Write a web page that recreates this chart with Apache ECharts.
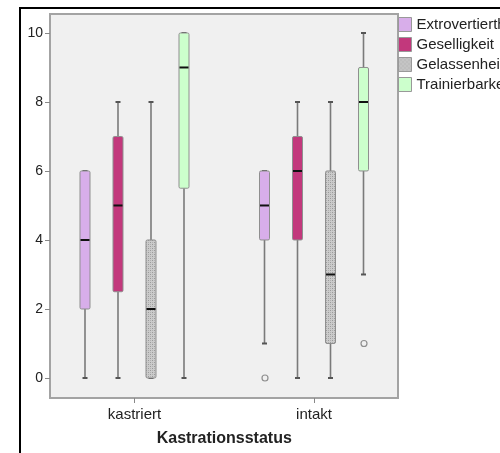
<!DOCTYPE html>
<html>
<head>
<meta charset="utf-8">
<script src="https://cdn.jsdelivr.net/npm/echarts@6/dist/echarts.min.js"></script>
<style>
html,body{margin:0;padding:0;background:#fff;}
#chart{width:500px;height:453px;}
</style>
</head>
<body>
<div id="chart"></div>
<script>
// ---- data ----
const categories = ['kastriert', 'intakt'];
const seriesNames = ['Extrovertiertheit', 'Geselligkeit', 'Gelassenheit', 'Trainierbarkeit'];
// each row: [min, Q1, median, Q3, max] for kastriert, intakt
const extrovertiertheit = [[0, 2, 4, 6, 6], [1, 4, 5, 6, 6]];
const geselligkeit      = [[0, 2.5, 5, 7, 8], [0, 4, 6, 7, 8]];
const gelassenheit      = [[0, 0, 2, 4, 8], [0, 1, 3, 6, 8]];
const trainierbarkeit   = [[0, 5.5, 9, 10, 10], [3, 6, 8, 9, 10]];
// outliers: [categoryIndex, value]
const outliersExtro = [[1, 0]];
const outliersTrain = [[1, 1]];
const yTickValues = [0, 2, 4, 6, 8, 10];

// ---- styles ----
const FONT = "'Liberation Sans', Arial, sans-serif";
const offsets = [-49.5, -16.5, 16.5, 49.5];
const boxW = 10;

const pc = document.createElement('canvas');
pc.width = 4; pc.height = 4;
const pctx = pc.getContext('2d');
pctx.fillStyle = '#cbcbcb'; pctx.fillRect(0, 0, 4, 4);
pctx.fillStyle = '#9a9a9a';
pctx.fillRect(0, 0, 1, 1); pctx.fillRect(2, 2, 1, 1);
pctx.fillStyle = '#b0b0b0';
pctx.fillRect(2, 0, 1, 1); pctx.fillRect(0, 2, 1, 1);
const hatch = { image: pc, repeat: 'repeat' };

const colors = ['#d8aeea', '#c2387c', hatch, '#ccffcc'];
const allData = [extrovertiertheit, geselligkeit, gelassenheit, trainierbarkeit];

function makeRender(offset, fill) {
  return function (params, api) {
    const cat = api.value(0);
    const mn = api.value(1), q1 = api.value(2), md = api.value(3), q3 = api.value(4), mx = api.value(5);
    const cx = api.coord([cat, md])[0] + offset;
    const y = v => api.coord([cat, v])[1];
    const children = [];
    const wl = { stroke: '#7a7a7a', lineWidth: 1.6 };
    if (mx > q3) children.push({ type: 'line', shape: { x1: cx, y1: y(mx), x2: cx, y2: y(q3) }, style: wl });
    if (mn < q1) children.push({ type: 'line', shape: { x1: cx, y1: y(q1), x2: cx, y2: y(mn) }, style: wl });
    children.push({ type: 'line', shape: { x1: cx - 2.5, y1: y(mx), x2: cx + 2.5, y2: y(mx) }, style: { stroke: '#555', lineWidth: 2 } });
    children.push({ type: 'line', shape: { x1: cx - 2.5, y1: y(mn), x2: cx + 2.5, y2: y(mn) }, style: { stroke: '#555', lineWidth: 2 } });
    children.push({ type: 'rect', shape: { x: cx - boxW / 2, y: y(q3), width: boxW, height: y(q1) - y(q3), r: 1.5 },
      style: { fill: fill, stroke: '#8f8f8f', lineWidth: 1 } });
    children.push({ type: 'line', shape: { x1: cx - boxW / 2 + 0.5, y1: y(md), x2: cx + boxW / 2 - 0.5, y2: y(md) }, style: { stroke: '#111', lineWidth: 2 } });
    return { type: 'group', children: children };
  };
}

const series = seriesNames.map((name, i) => ({
  type: 'custom',
  name: name,
  xAxisIndex: 1, yAxisIndex: 1,
  itemStyle: { color: colors[i], borderColor: '#8f8f8f', borderWidth: 1 },
  encode: { x: 0, y: [1, 2, 3, 4, 5] },
  data: allData[i].map((r, k) => [k].concat(r)),
  renderItem: makeRender(offsets[i], colors[i]),
  z: 3
}));

series.push({
  type: 'scatter', name: 'out1', xAxisIndex: 1, yAxisIndex: 1,
  symbol: 'circle', symbolSize: 6, symbolOffset: [offsets[0] + 0.5, 0],
  itemStyle: { color: 'transparent', borderColor: '#777', borderWidth: 1.2 },
  data: outliersExtro, z: 4, silent: true
});
series.push({
  type: 'scatter', name: 'out2', xAxisIndex: 1, yAxisIndex: 1,
  symbol: 'circle', symbolSize: 6, symbolOffset: [offsets[3] + 0.5, 0],
  itemStyle: { color: 'transparent', borderColor: '#777', borderWidth: 1.2 },
  data: outliersTrain, z: 4, silent: true
});

const yMin = -0.58, yMax = 10.55;

const option = {
  animation: false,
  backgroundColor: '#ffffff',
  textStyle: { fontFamily: FONT },
  graphic: [{
    type: 'polyline', silent: true,
    shape: { points: [[20, 470], [20, 8], [520, 8]] },
    style: { stroke: '#000', lineWidth: 2, fill: null }
  }],
  legend: {
    data: seriesNames,
    orient: 'vertical',
    left: 398, top: 17, padding: 0,
    itemWidth: 13, itemHeight: 14, itemGap: 5,
    icon: 'rect',
    textStyle: { fontFamily: FONT, fontSize: 15, lineHeight: 14, color: '#222' },
    itemStyle: { borderColor: '#999', borderWidth: 1 }
  },
  grid: [
    { left: 50, top: 14, width: 348, height: 384, show: true, backgroundColor: '#f0f0f0', borderColor: '#a3a3a3', borderWidth: 2 },
    { left: 134.5, top: 14, width: 179.5, height: 384, show: false }
  ],
  xAxis: [
    { gridIndex: 0, type: 'category', data: categories, show: false },
    {
      gridIndex: 1, type: 'category', data: categories, boundaryGap: false,
      axisLine: { show: true, onZero: false, lineStyle: { color: 'rgba(0,0,0,0)' } },
      axisTick: { show: true, length: 5, lineStyle: { color: '#888', width: 1 }, alignWithLabel: true },
      axisLabel: { show: true, margin: 9, fontFamily: FONT, fontSize: 15, color: '#222' },
      splitLine: { show: false },
      name: 'Kastrationsstatus', nameLocation: 'middle', nameGap: 33,
      nameTextStyle: { fontFamily: FONT, fontSize: 16, fontWeight: 'bold', color: '#222' }
    }
  ],
  yAxis: [
    {
      gridIndex: 0, type: 'value', min: yMin, max: yMax,
      axisLine: { show: false },
      axisTick: { show: true, length: 5, lineStyle: { color: '#888' }, customValues: yTickValues },
      axisLabel: { show: true, margin: 7, fontFamily: FONT, fontSize: 14, color: '#222', customValues: yTickValues },
      splitLine: { show: false }
    },
    { gridIndex: 1, type: 'value', min: yMin, max: yMax, show: false, splitLine: { show: false } }
  ],
  series: series
};

const chart = echarts.init(document.getElementById('chart'), null, { renderer: 'canvas' });
chart.setOption(option);
</script>
</body>
</html>
